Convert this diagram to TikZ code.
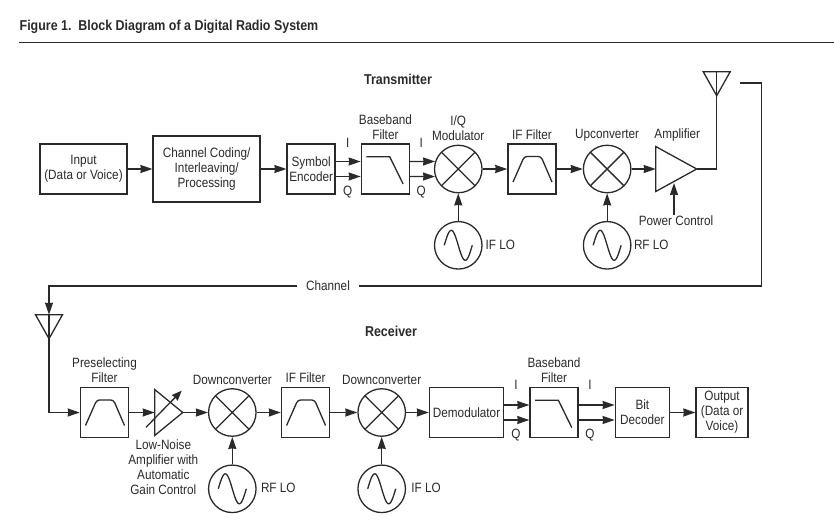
\documentclass[tikz,border=0pt]{standalone}
\usepackage{fontspec}
\setmainfont{Liberation Sans}[FakeStretch=0.87]
\usetikzlibrary{arrows.meta,positioning,shapes.geometric}
\definecolor{ink}{HTML}{2A2A2C}

\begin{document}
\begin{tikzpicture}[x=1pt,y=-1pt,>={Stealth[length=12pt,width=8pt,inset=.5pt]},line width=1.3pt,color=ink,
		every node/.style={font=\fontsize{13.5}{15}\selectfont,text=ink}]
		\tikzstyle{txt}=[inner sep=0pt,align=center]
		\tikzstyle{head}=[txt,font=\fontsize{14.3}{15}\selectfont\bfseries]
		\tikzstyle{block}=[draw,line width=1.5pt,inner sep=0pt,align=center,minimum width=48pt,minimum height=50pt]
		\tikzstyle{lowpass}=[block,path picture={\draw[line width=1.3pt,shift={(path picture bounding box.center)}] (-19,-12.3) -- (4.3,-12.3) -- (17.7,15);}]
		\tikzstyle{bandpass}=[block,path picture={\draw[line width=1.3pt,shift={(path picture bounding box.center)},rounded corners=3pt] (-19,13) -- (-7.7,-12.6) -- (9,-12.6) -- (20,13);}]
		\tikzstyle{mixer}=[draw,circle,inner sep=0pt,minimum size=47.5pt,path picture={\draw[shift={(path picture bounding box.center)}] (-17,-17) -- (17,17) (-17,17) -- (17,-17);}]
		\tikzstyle{osc}=[draw,circle,inner sep=0pt,minimum size=47.5pt,path picture={\draw[shift={(path picture bounding box.center)}] plot[domain=-14:14,samples=41,smooth] (\x,{-15*sin(12.857*(\x+14))});}]
		\tikzstyle{amptri}=[draw,isosceles triangle,isosceles triangle stretches,inner sep=0pt,outer sep=0pt,anchor=lower side]
		\tikzstyle{aerial}=[amptri,shape border rotate=-90,minimum width=27pt,minimum height=24pt]

		\useasboundingbox (0,0) rectangle (834,530);

		% heading
		\node[head,anchor=west] (title) at (19,27) {Figure 1.\ \ Block Diagram of a Digital Radio System};
		\coordinate (rulea) at (19,42.5);
		\coordinate (ruleb) at (834,42.5);
		\draw[line width=.8pt] (rulea) -- (ruleb);
		\node[head] (txhead) at (398,79) {Transmitter};
		\node[head] (rxhead) at (391,331) {Receiver};

		% transmitter
		\node[block,minimum width=87pt] (input) at (83.5,169) {Input\\(Data or Voice)};
		\node[block,minimum width=107pt,minimum height=66pt] (coding) [right=24.7pt of input] {Channel Coding/\\Interleaving/\\Processing};
		\node[block] (symbol) [right=25.5pt of coding] {Symbol\\Encoder};
		\node[lowpass] (bbtx) [right=24.7pt of symbol] {};
		\node[mixer] (iqmod) [right=23.7pt of bbtx] {};
		\node[bandpass] (iftx) [right=24.6pt of iqmod] {};
		\node[mixer] (upconv) [right=26pt of iftx] {};
		\node[amptri,minimum width=45pt,minimum height=41pt] (amp) at (655.7,169) {};
		\node[osc] (iflotx) [below=27.5pt of iqmod] {};
		\node[osc] (rflotx) [below=27.5pt of upconv] {};
		\node[aerial] (anttx) at (716.7,71.7) {};
		\node[txt] (power) at (676,221) {Power Control};
		\coordinate (powerin) at (674,183);

		\node[txt] (bbtxlab) [above=3pt of bbtx] {Baseband\\Filter};
		\node[txt] (iqlab) [above=3pt of iqmod] {I/Q\\Modulator};
		\node[txt] (iftxlab) [above=3pt of iftx] {IF Filter};
		\node[txt] (uplab) [above=3pt of upconv] {Upconverter};
		\node[txt] (amplab) at (677.3,135) {Amplifier};
		\node[txt] (iflolab) at (500.3,245) {IF LO};
		\node[txt] (rflolab) at (651.3,245) {RF LO};
		\node[txt] (ia) at (347.7,142.7) {I};
		\node[txt] (qa) at (347.7,192) {Q};
		\node[txt] (ib) at (421.3,142.7) {I};
		\node[txt] (qb) at (421.3,192) {Q};

		\path[->]
		(input) edge (coding)
		(coding) edge (symbol)
		([yshift=7.5pt]symbol.east) edge ([yshift=7.5pt]bbtx.west)
		([yshift=-7.5pt]symbol.east) edge ([yshift=-7.5pt]bbtx.west)
		([yshift=7.5pt]bbtx.east) edge (iqmod.162)
		([yshift=-7.5pt]bbtx.east) edge (iqmod.198)
		(iqmod) edge (iftx)
		(iftx) edge (upconv)
		(upconv) edge (amp.lower side)
		(iflotx) edge (iqmod)
		(rflotx) edge (upconv)
		(power.north -| powerin) edge (powerin);
		\draw (amp.apex) -| (anttx.apex) -- (anttx.lower side);

		% channel
		\node[txt,inner xsep=8pt] (channel) at (328,286) {Channel};
		\coordinate (chstart) at (740,83);
		\coordinate (chturn) at (761.3,286);
		\draw (chstart) -| (chturn) -- (channel.east);

		% receiver
		\node[aerial] (antrx) at (49,314.7) {};
		\node[bandpass] (presel) at (104.5,412.5) {};
		\node[amptri,minimum width=46pt,minimum height=28pt] (lna) at (154.7,412.5) {};
		\node[mixer] (downa) at (232.3,412.5) {};
		\node[bandpass] (ifrx) [right=24.1pt of downa] {};
		\node[mixer] (downb) [right=27pt of ifrx] {};
		\node[block,minimum width=74pt] (demod) [right=22.7pt of downb] {Demodulator};
		\node[lowpass] (bbrx) [right=25pt of demod] {};
		\node[block,minimum width=54pt] (bit) [right=35.8pt of bbrx] {Bit\\Decoder};
		\node[block,minimum width=52pt] (output) [right=25.2pt of bit] {Output\\(Data or\\Voice)};
		\node[osc] (rflorx) [below=27.5pt of downa] {};
		\node[osc] (iflorx) [below=27.5pt of downb] {};
		\coordinate (agcs) at (146,427.3);
		\coordinate (agce) at (181.7,390.7);

		\node[txt] (presellab) [above=3pt of presel] {Preselecting\\Filter};
		\node[txt] (downalab) [above=3pt of downa] {Downconverter};
		\node[txt] (ifrxlab) [above=3pt of ifrx] {IF Filter};
		\node[txt] (downblab) [above=3pt of downb] {Downconverter};
		\node[txt] (bbrxlab) [above=3pt of bbrx] {Baseband\\Filter};
		\node[txt] (lnalab) at (163.3,466.7) {Low-Noise\\Amplifier with\\Automatic\\Gain Control};
		\node[txt] (rflorxlab) at (278.3,488) {RF LO};
		\node[txt] (iflorxlab) at (426,488) {IF LO};
		\node[txt] (ic) at (516,385) {I};
		\node[txt] (qc) at (516,435) {Q};
		\node[txt] (id) at (590,385) {I};
		\node[txt] (qd) at (590,435) {Q};

		\draw[->] (channel.west) -| (antrx.lower side);
		\draw (antrx.lower side) -- (antrx.apex);
		\draw[->] (antrx.apex) |- (presel);
		\draw[->,>={Stealth[length=10pt,width=8pt,inset=.5pt]}] (agcs) -- (agce);
		\path[->]
		(presel) edge (lna.lower side)
		(lna.apex) edge (downa)
		(downa) edge (ifrx)
		(ifrx) edge (downb)
		(downb) edge (demod)
		([yshift=7.5pt]demod.east) edge ([yshift=7.5pt]bbrx.west)
		([yshift=-7.5pt]demod.east) edge ([yshift=-7.5pt]bbrx.west)
		([yshift=7.5pt]bbrx.east) edge ([yshift=7.5pt]bit.west)
		([yshift=-7.5pt]bbrx.east) edge ([yshift=-7.5pt]bit.west)
		(bit) edge (output)
		(rflorx) edge (downa)
		(iflorx) edge (downb);
	\end{tikzpicture}
\end{document}
